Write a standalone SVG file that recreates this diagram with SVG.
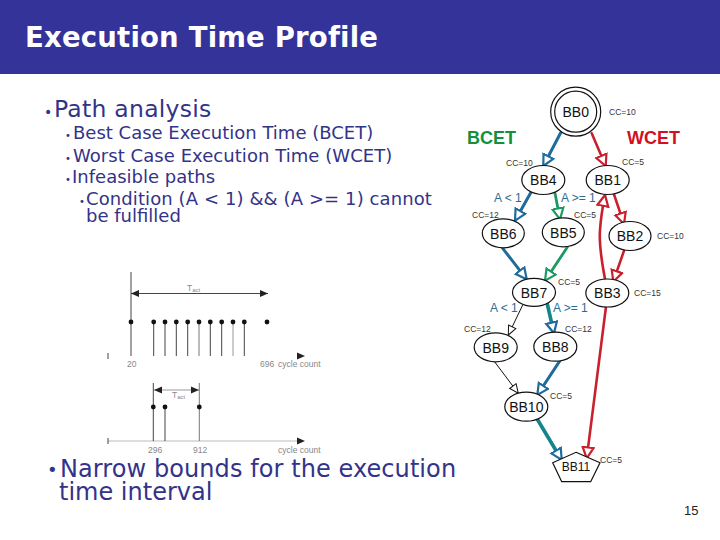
<svg xmlns="http://www.w3.org/2000/svg" width="720" height="540" viewBox="0 0 720 540">
<style>
text{font-family:"DejaVu Sans",Verdana,sans-serif;fill:#333388}
.g text,text.n,text.c{font-family:"Liberation Sans",Arial,sans-serif;fill:#111}
.n{font-size:14px;text-anchor:middle}
.c{font-size:8.5px;fill:#333!important}
.e{fill:#fff;stroke:#111;stroke-width:1.200}
.l{fill:none;stroke-linecap:round}
.b{stroke:#1f6c9c;stroke-width:3}
.r{stroke:#c8202c;stroke-width:2.600}
.v{stroke:#1c9a63;stroke-width:2.800}
.t{stroke:#15858c;stroke-width:3.600}
.k{stroke:#111;stroke-width:1}
.s{stroke:#444;stroke-width:1;fill:none}
.d{fill:#111}
.a{font-size:8.500px;fill:#888!important;font-family:"Liberation Sans",Arial,sans-serif}
.h{font-family:"Liberation Sans",Arial,sans-serif;font-weight:700;font-size:18px}
.q{font-family:"Liberation Sans",Arial,sans-serif;font-size:12px;fill:#2b6c96}
</style>
<defs>
<marker id="mb" markerUnits="userSpaceOnUse" markerWidth="16" markerHeight="16" refX="12" refY="7" orient="auto"><path d="M1 1.500L12 7L1 12.500Z" fill="#fff" stroke="#1f6c9c" stroke-width="2.200"/></marker>
<marker id="mr" markerUnits="userSpaceOnUse" markerWidth="16" markerHeight="16" refX="12" refY="7" orient="auto"><path d="M1 1.500L12 7L1 12.500Z" fill="#fff" stroke="#c8202c" stroke-width="2.200"/></marker>
<marker id="mv" markerUnits="userSpaceOnUse" markerWidth="16" markerHeight="16" refX="12" refY="7" orient="auto"><path d="M1 1.500L12 7L1 12.500Z" fill="#fff" stroke="#1c9a63" stroke-width="2.200"/></marker>
<marker id="mk" markerUnits="userSpaceOnUse" markerWidth="14" markerHeight="14" refX="10" refY="5" orient="auto"><path d="M1 1L10 5L1 9Z" fill="#fff" stroke="#111" stroke-width="1"/></marker>
<marker id="ah" markerUnits="userSpaceOnUse" markerWidth="10" markerHeight="8" refX="8" refY="4" orient="auto"><path d="M0 0.500L8 4L0 7.500Z" fill="#222"/></marker>
<marker id="as" markerUnits="userSpaceOnUse" markerWidth="10" markerHeight="8" refX="0" refY="4" orient="auto"><path d="M8 0.500L0 4L8 7.500Z" fill="#222"/></marker>
</defs>
<rect width="720" height="540" fill="#fff"/>
<rect width="720" height="74" fill="#333399"/>
<text x="25" y="47" font-size="27.500" font-weight="700" style="fill:#fff;letter-spacing:.2px">Execution Time Profile</text>
<text x="44" y="117" font-size="14">•</text><text x="54" y="117" font-size="23.500" style="letter-spacing:.25px">Path analysis</text>
<g font-size="18">
<text x="65" y="139" font-size="10">•</text><text x="73" y="139">Best Case Execution Time (BCET)</text>
<text x="65" y="162" font-size="10">•</text><text x="73" y="162" style="letter-spacing:.05px">Worst Case Execution Time (WCET)</text>
<text x="65" y="183" font-size="10">•</text><text x="72" y="183">Infeasible paths</text>
<text x="79" y="205" font-size="10">•</text><text x="86" y="205" style="letter-spacing:.1px">Condition (A &lt; 1) &amp;&amp; (A &gt;= 1) cannot</text>
<text x="86" y="222">be fulfilled</text>
</g>
<g font-size="24">
<text x="47" y="476" font-size="18">•</text><text x="60" y="477" style="letter-spacing:.08px">Narrow bounds for the execution</text>
<text x="59" y="500">time interval</text>
</g>
<text x="684" y="515" font-size="13" style="font-family:'Liberation Sans',Arial,sans-serif;fill:#222">15</text>

<g id="plot1">
<line class="s" x1="131" y1="272" x2="131" y2="356"/>
<line x1="131" y1="293.500" x2="268" y2="293.500" class="s" marker-start="url(#as)" marker-end="url(#ah)"/>
<text class="a" x="187" y="291">T<tspan font-size="6" dy="1">act</tspan></text>
<g class="s">
<line x1="153.700" y1="322" x2="153.700" y2="356"/><line x1="165" y1="322" x2="165" y2="356"/><line x1="176.300" y1="322" x2="176.300" y2="356"/><line x1="187.700" y1="322" x2="187.700" y2="356"/><line x1="199" y1="322" x2="199" y2="356" stroke="#777"/><line x1="210.300" y1="322" x2="210.300" y2="356"/><line x1="221.700" y1="322" x2="221.700" y2="356"/><line x1="233" y1="322" x2="233" y2="356" stroke="#999"/><line x1="244.300" y1="322" x2="244.300" y2="356"/>
</g>
<g class="d">
<circle cx="131" cy="322" r="2.400"/><circle cx="153.700" cy="322" r="2.400"/><circle cx="165" cy="322" r="2.400"/><circle cx="176.300" cy="322" r="2.400"/><circle cx="187.700" cy="322" r="2.400"/><circle cx="199" cy="322" r="2.400"/><circle cx="210.300" cy="322" r="2.400"/><circle cx="221.700" cy="322" r="2.400"/><circle cx="233" cy="322" r="2.400"/><circle cx="244.300" cy="322" r="2.400"/><circle cx="267" cy="322" r="2.400"/>
</g>
<line class="s" x1="108" y1="353" x2="108" y2="359"/>
<path d="M297 352.500L305 356L297 359.500Z" fill="#222"/>
<text class="a" x="127" y="367">20</text><text class="a" x="260" y="367">696</text><text class="a" x="278" y="367">cycle count</text>
</g>
<g id="plot2">
<line x1="108" y1="441" x2="300" y2="441" stroke="#bbb"/>
<line class="s" x1="108" y1="438" x2="108" y2="444"/>
<path d="M297 437.500L305 441L297 444.500Z" fill="#222"/>
<line class="s" x1="153.300" y1="383" x2="153.300" y2="441"/>
<line class="s" x1="165" y1="407" x2="165" y2="441"/>
<line x1="199.300" y1="383" x2="199.300" y2="441" stroke="#777"/>
<line x1="154" y1="390" x2="199" y2="390" stroke="#999" marker-start="url(#as)" marker-end="url(#ah)"/>
<text class="a" x="172" y="398">T<tspan font-size="6" dy="1">act</tspan></text>
<g class="d"><circle cx="153.300" cy="407" r="2.400"/><circle cx="165" cy="407" r="2.400"/><circle cx="199.300" cy="407" r="2.400"/></g>
<text class="a" x="148" y="453">296</text><text class="a" x="193" y="453">912</text><text class="a" x="278" y="453">cycle count</text>
</g>

<text class="h" x="467" y="144" style="fill:#12903c">BCET</text>
<text class="h" x="627" y="144" style="fill:#d2101e">WCET</text>

<g id="connectors">
<line class="l b" x1="560.700" y1="132.700" x2="543.300" y2="166" marker-end="url(#mb)"/>
<line class="l r" x1="591.700" y1="133.300" x2="605.700" y2="166" marker-end="url(#mr)"/>
<line class="l b" x1="530.700" y1="192.700" x2="515" y2="220.700" marker-end="url(#mb)"/>
<line class="l v" x1="555" y1="193.300" x2="560" y2="219.300" marker-end="url(#mv)"/>
<line class="l r" x1="614" y1="194.300" x2="624" y2="224" marker-end="url(#mr)"/>
<line class="l r" x1="624" y1="250.700" x2="613.300" y2="281.700" marker-end="url(#mr)"/>
<path class="l r" d="M605 279C601 258 599 243 600 230C601 215 603 205 605 195" marker-end="url(#mr)"/>
<line class="l b" x1="502.700" y1="248.300" x2="526.700" y2="279.300" marker-end="url(#mb)"/>
<line class="l v" x1="567.300" y1="247.300" x2="545" y2="280.700" marker-end="url(#mv)"/>
<line class="l k" x1="522.700" y1="305" x2="508.300" y2="335" marker-end="url(#mk)"/>
<line class="l t" x1="547.300" y1="304" x2="554" y2="333.300" marker-end="url(#mb)"/>
<line class="l k" x1="495" y1="362.300" x2="518.300" y2="393.300" marker-end="url(#mk)"/>
<line class="l b" x1="560" y1="360.700" x2="537.300" y2="395" marker-end="url(#mb)"/>
<line class="l t" x1="537.300" y1="419.300" x2="561.700" y2="460" marker-end="url(#mb)"/>
<line class="l r" x1="606" y1="306.700" x2="586.700" y2="458.300" marker-end="url(#mr)"/>
</g>

<g id="BB0"><ellipse class="e" cx="575.700" cy="111.700" rx="25" ry="24.500"/><ellipse class="e" cx="575.700" cy="111.700" rx="21" ry="20.500"/><text class="n" x="575.700" y="116.500">BB0</text><text class="c" x="609" y="115">CC=10</text></g>
<g id="BB4"><ellipse class="e" cx="543.300" cy="180" rx="21.500" ry="14.500"/><text class="n" x="543.300" y="185">BB4</text><text class="c" x="506" y="166">CC=10</text></g>
<g id="BB1"><ellipse class="e" cx="607.700" cy="180" rx="21.500" ry="14.500"/><text class="n" x="607.700" y="185">BB1</text><text class="c" x="622" y="165">CC=5</text></g>
<g id="BB6"><ellipse class="e" cx="503.300" cy="233.300" rx="21" ry="14.500"/><text class="n" x="503.300" y="238.500">BB6</text><text class="c" x="472" y="218">CC=12</text></g>
<g id="BB5"><ellipse class="e" cx="563.300" cy="232.300" rx="21" ry="14.500"/><text class="n" x="563.300" y="237.500">BB5</text><text class="c" x="574" y="218">CC=5</text></g>
<g id="BB2"><ellipse class="e" cx="630" cy="236" rx="21" ry="14.500"/><text class="n" x="630" y="241">BB2</text><text class="c" x="657" y="239">CC=10</text></g>
<g id="BB7"><ellipse class="e" cx="534" cy="292.300" rx="21.500" ry="14"/><text class="n" x="534" y="297.500">BB7</text><text class="c" x="558" y="285">CC=5</text></g>
<g id="BB3"><ellipse class="e" cx="607.300" cy="293" rx="21.500" ry="14"/><text class="n" x="607.300" y="298">BB3</text><text class="c" x="634" y="296">CC=15</text></g>
<g id="BB9"><ellipse class="e" cx="495.700" cy="347.300" rx="21.500" ry="14.500"/><text class="n" x="495.700" y="352.500">BB9</text><text class="c" x="464" y="332">CC=12</text></g>
<g id="BB8"><ellipse class="e" cx="555.300" cy="346.700" rx="21.500" ry="14.500"/><text class="n" x="555.300" y="352">BB8</text><text class="c" x="565" y="332">CC=12</text></g>
<g id="BB10"><ellipse class="e" cx="526.300" cy="406.700" rx="21.500" ry="14.500"/><text class="n" x="526.300" y="411.500">BB10</text><text class="c" x="550" y="399">CC=5</text></g>
<g id="BB11"><polygon class="e" points="576,452.300 600,462.700 590.700,481.700 561.700,481.700 552.700,462.700"/><text class="n" x="576" y="471" style="font-size:12px">BB11</text><text class="c" x="600" y="463">CC=5</text></g>

<g id="edge-labels">
<text class="q" x="494" y="202">A &lt; 1</text>
<text class="q" x="561" y="202">A &gt;= 1</text>
<text class="q" x="490" y="312">A &lt; 1</text>
<text class="q" x="553" y="312">A &gt;= 1</text>
</g>
</svg>
